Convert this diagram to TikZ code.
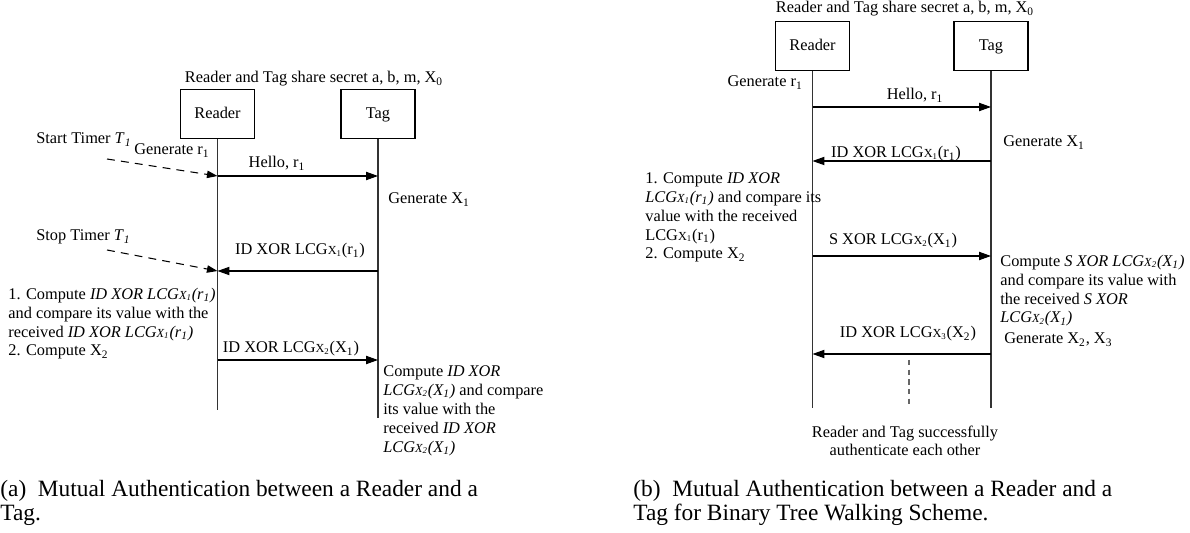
\documentclass[tikz,border=0pt]{standalone}
\usepackage{fontspec}
\setmainfont{Liberation Serif}
\usetikzlibrary{arrows.meta,positioning}

\newcommand{\lcgx}[1]{LCG{\scriptsize X\textsubscript{#1}}}

\begin{document}
\begin{tikzpicture}[x=0.02cm,y=-0.02cm,
  every node/.style={font=\fontsize{9.3}{10.8}\selectfont},
  party/.style={draw,line width=0.6pt,minimum width=1.48cm,minimum height=0.97cm,
    text height=0.7em,text depth=0.2em},
  life/.style={line width=0.6pt,black!80},
  msg/.style={line width=0.6pt,-{Triangle[length=6.8pt,width=4.7pt]}},
  timer/.style={line width=0.6pt,dash pattern=on 4.5pt off 3.5pt,-{Triangle[length=6pt,width=4.2pt]}},
  note/.style={anchor=base west,align=left,inner sep=0pt},
  lbl/.style={anchor=base,inner sep=0pt},
  caption/.style={anchor=base west,align=left,inner sep=0pt,font=\fontsize{13.3}{13.6}\selectfont}]
 \useasboundingbox (0,0) rectangle (1190,533);

 % (a) reader and tag
 \node[lbl] (keysA) at (314,83) {Reader and Tag share secret a, b, m, X\textsubscript{0}};
 \node[party] (readerA) at (217.5,114) {Reader};
 \node[party] (tagA) at (378,114) {Tag};
 \coordinate (readerAend) at (readerA.south |- 0,410);
 \coordinate (tagAend) at (tagA.south |- 0,418);
 \draw[life] (readerA.south) -- (readerAend);
 \draw[life] (tagA.south) -- (tagAend);

 \node[note] (startA) at (36,144) {Start Timer \textit{T}\textsubscript{\textit{1}}};
 \node[note] (genrA) at (134,155) {Generate r\textsubscript{1}};
 \coordinate (startAtail) at (107,159);
 \coordinate (helloA1) at (readerA.south |- 0,176);
 \coordinate (helloA2) at (tagA.south |- 0,176);
 \draw[timer] (startAtail) -- (helloA1);
 \draw[msg] (helloA1) -- (helloA2);
 \node[lbl] (helloAlbl) at (277,168) {Hello, r\textsubscript{1}};
 \node[note] (genxA) at (388,204) {Generate X\textsubscript{1}};

 \node[note] (stopA) at (36,241) {Stop Timer \textit{T}\textsubscript{\textit{1}}};
 \coordinate (stopAtail) at (107,250);
 \coordinate (idA1) at (readerA.south |- 0,271);
 \coordinate (idA2) at (tagA.south |- 0,271);
 \draw[timer] (stopAtail) -- (idA1);
 \draw[msg] (idA2) -- (idA1);
 \node[lbl] (idAlbl) at (300,255) {ID XOR \lcgx{1}(r\textsubscript{1})};

 % multi-line notes sit on their last baseline
 \node[note] (checkA) at (8,356) {1. Compute \textit{ID XOR \lcgx{1}(r\textsubscript{1})}\\
   and compare its value with the\\
   received \textit{ID XOR \lcgx{1}(r\textsubscript{1})}\\
   2. Compute X\textsubscript{2}};

 \coordinate (idxA1) at (readerA.south |- 0,360);
 \coordinate (idxA2) at (tagA.south |- 0,360);
 \draw[msg] (idxA1) -- (idxA2);
 \node[lbl] (idxAlbl) at (291,353) {ID XOR \lcgx{2}(X\textsubscript{1})};
 \node[note] (verifyA) at (383,452) {Compute \textit{ID XOR}\\
   \textit{\lcgx{2}(X\textsubscript{1})} and compare\\
   its value with the\\
   received \textit{ID XOR}\\
   \textit{\lcgx{2}(X\textsubscript{1})}};

 % (b) binary tree walking
 \node[lbl] (keysB) at (905,13) {Reader and Tag share secret a, b, m, X\textsubscript{0}};
 \node[party] (readerB) at (812.5,46) {Reader};
 \node[party] (tagB) at (991,46) {Tag};
 \coordinate (readerBend) at (readerB.south |- 0,408);
 \coordinate (tagBend) at (tagB.south |- 0,408);
 \draw[life] (readerB.south) -- (readerBend);
 \draw[life] (tagB.south) -- (tagBend);

 \node[note,anchor=base east] (genrB) at (803,87) {Generate r\textsubscript{1}};
 \coordinate (helloB1) at (readerB.south |- 0,107);
 \coordinate (helloB2) at (tagB.south |- 0,107);
 \draw[msg] (helloB1) -- (helloB2);
 \node[lbl] (helloBlbl) at (915,100) {Hello, r\textsubscript{1}};
 \node[note] (genxB) at (1003,147) {Generate X\textsubscript{1}};

 \coordinate (idB1) at (readerB.south |- 0,161);
 \coordinate (idB2) at (tagB.south |- 0,161);
 \draw[msg] (idB2) -- (idB1);
 \node[lbl] (idBlbl) at (896,158) {ID XOR \lcgx{1}(r\textsubscript{1})};

 \node[note] (checkB) at (645,259) {1. Compute \textit{ID XOR}\\
   \textit{\lcgx{1}(r\textsubscript{1})} and compare its\\
   value with the received\\
   \lcgx{1}(r\textsubscript{1})\\
   2. Compute X\textsubscript{2}};

 \coordinate (sB1) at (readerB.south |- 0,256);
 \coordinate (sB2) at (tagB.south |- 0,256);
 \draw[msg] (sB1) -- (sB2);
 \node[lbl] (sBlbl) at (893,245) {S XOR \lcgx{2}(X\textsubscript{1})};
 \node[note] (verifyB) at (1000,323) {Compute \textit{S XOR \lcgx{2}(X\textsubscript{1})}\\
   and compare its value with\\
   the received \textit{S XOR}\\
   \textit{\lcgx{2}(X\textsubscript{1})}};
 \node[note] (genxxB) at (1004,344) {Generate X\textsubscript{2}, X\textsubscript{3}};

 \coordinate (idxB1) at (readerB.south |- 0,354);
 \coordinate (idxB2) at (tagB.south |- 0,354);
 \draw[msg] (idxB2) -- (idxB1);
 \node[lbl] (idxBlbl) at (908,338) {ID XOR \lcgx{3}(X\textsubscript{2})};

 \coordinate (doneBtop) at (909,360);
 \node[lbl,align=center] (doneB) at (905,456) {Reader and Tag successfully\\ authenticate each other};
 \draw[black!60,line width=0.6pt,dash pattern=on 3pt off 2.5pt] (doneBtop) -- (909,407);

 % captions
 \node[caption] (capA) at (0,520) {(a)\ \ Mutual Authentication between a Reader and a\\ Tag.};
 \node[caption] (capB) at (633,520) {(b)\ \ Mutual Authentication between a Reader and a\\ Tag for Binary Tree Walking Scheme.};
\end{tikzpicture}
\end{document}
